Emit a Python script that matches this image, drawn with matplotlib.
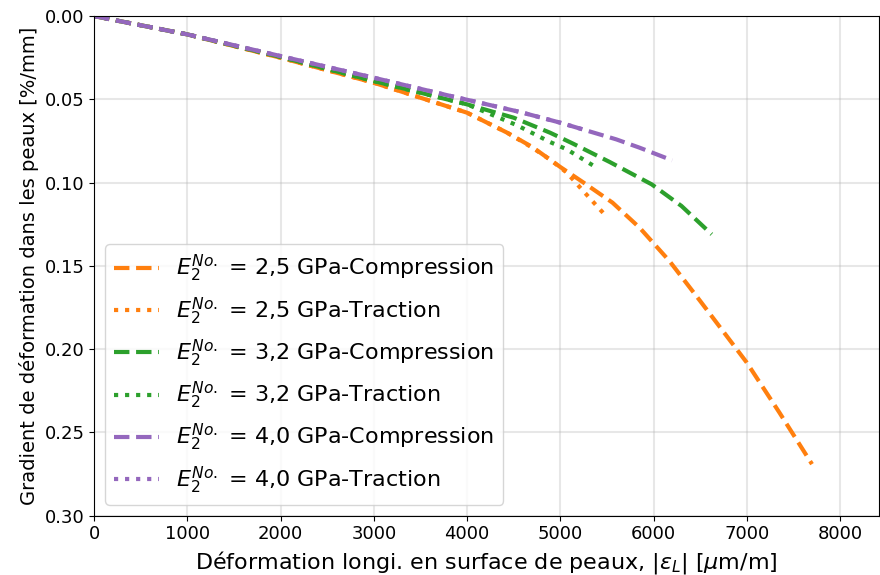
import matplotlib
matplotlib.use("Agg")
from matplotlib import pyplot as plt

# lectures sur le graphique de reference
x_25_comp = [0, 1000, 2000, 3000, 4000, 4430, 4700, 5000, 5240, 5560, 5850, 6170, 6500, 7000, 7350, 7700]
y_25_comp = [0, 0.011, 0.025, 0.040, 0.058, 0.070, 0.0786, 0.0906, 0.0996, 0.112, 0.127, 0.147, 0.171, 0.208, 0.238, 0.269]

x_25_trac = [0, 1000, 2000, 3000, 4000, 4430, 4700, 4900, 5070, 5230, 5400, 5500]
y_25_trac = [0, 0.011, 0.025, 0.040, 0.058, 0.070, 0.079, 0.0865, 0.094, 0.104, 0.1145, 0.1206]

x_32_comp = [0, 1000, 2000, 3000, 4000, 4500, 4890, 5134, 5530, 5980, 6300, 6624]
y_32_comp = [0, 0.011, 0.0245, 0.039, 0.053, 0.061, 0.070, 0.0765, 0.0876, 0.101, 0.114, 0.131]

x_32_trac = [0, 1000, 2000, 3000, 4000, 4530, 4890, 5070, 5390]
y_32_trac = [0, 0.011, 0.0245, 0.039, 0.053, 0.0654, 0.0756, 0.080, 0.091]

x_40_comp = [0, 1000, 2000, 3000, 3780, 4570, 5000, 5600, 5850, 6200]
y_40_comp = [0, 0.011, 0.024, 0.037, 0.0474, 0.0576, 0.064, 0.074, 0.079, 0.0866]

x_40_trac = [0, 1000, 2000, 3000, 3780, 4570, 5000, 5300]
y_40_trac = [0, 0.011, 0.024, 0.037, 0.0474, 0.0576, 0.064, 0.069]

modules = ["2,5", "3,2", "4,0"]
colors = ["tab:orange", "tab:green", "tab:purple"]

series = [
    (x_25_comp, y_25_comp, x_25_trac, y_25_trac),
    (x_32_comp, y_32_comp, x_32_trac, y_32_trac),
    (x_40_comp, y_40_comp, x_40_trac, y_40_trac),
]

fig, ax = plt.subplots(figsize=(8.8, 5.75), dpi=100)
fig.subplots_adjust(left=0.107, right=0.999, bottom=0.103, top=0.972)

for (xc, yc, xt, yt), mod, col in zip(series, modules, colors):
    ax.plot(xc, yc, '--', color=col, linewidth=3,
            label=r'$E_2^{No.}$ = ' + mod + ' GPa-Compression')
    ax.plot(xt, yt, ':', color=col, linewidth=3,
            label=r'$E_2^{No.}$ = ' + mod + ' GPa-Traction')

ax.set_xlim(0, 8420)
ax.set_ylim(0.30, 0.0)
ax.set_xlabel(r'Déformation longi. en surface de peaux, $|\epsilon_L|$ [$\mu$m/m]', fontsize=16)
ax.set_ylabel('Gradient de déformation dans les peaux [%/mm]', fontsize=14)
ax.tick_params(labelsize=13)
ax.grid(True, linewidth=1.5, alpha=0.3)
ax.legend(loc='lower left', fontsize=16)

fig.savefig("out.png", dpi=100)
plt.close(fig)
